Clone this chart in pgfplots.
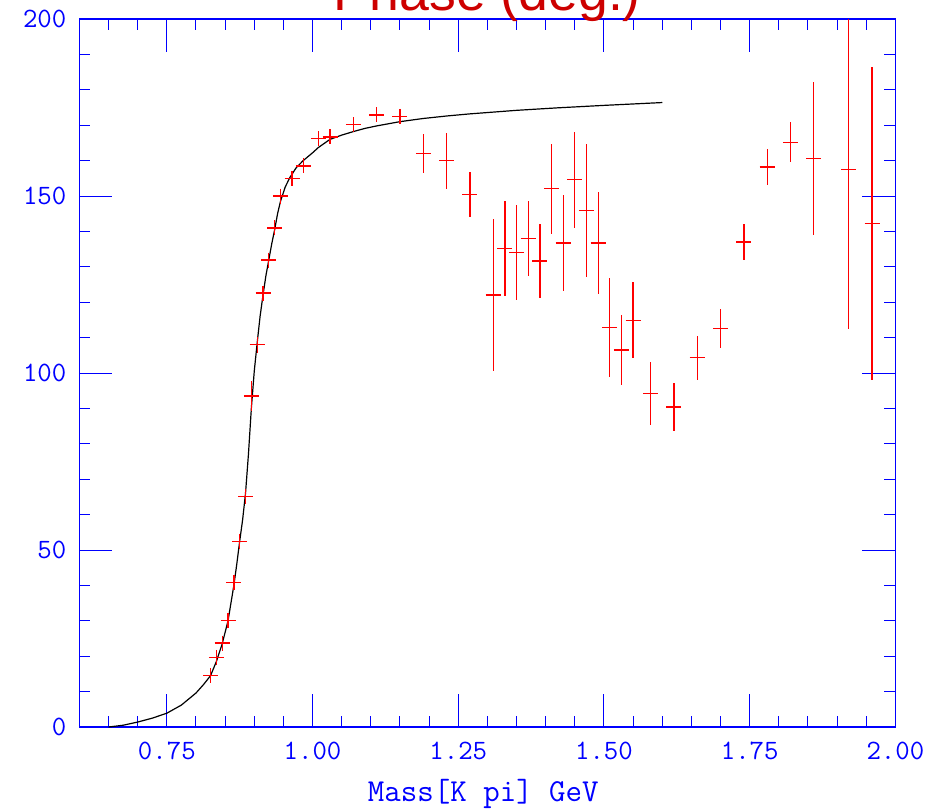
\documentclass[border=0pt]{standalone}
\usepackage{fontspec}
\usepackage{pgfplots}
\usepackage{pgfplotstable}
\pgfplotsset{compat=1.18}
\newfontfamily\titlefont{Liberation Sans}
\definecolor{axblue}{RGB}{0,0,255}
\definecolor{titlered}{RGB}{205,0,0}

\pgfplotstableread{
m v e
0.825 14.5 1.5
0.835 19.7 1.5
0.845 23.7 1.5
0.855 30.0 1.5
0.865 40.8 1.5
0.875 52.5 1.5
0.885 65.1 1.5
0.895 93.5 4.3
0.905 108.0 2.3
0.915 122.6 1.5
0.925 131.9 1.5
0.935 141.0 1.5
0.945 150.0 1.5
0.965 154.9 1.5
0.985 158.5 1.5
1.010 166.2 1.5
1.030 166.7 1.5
1.070 170.1 1.5
1.110 172.9 1.5
1.150 172.5 1.5
1.190 162.0 5.4
1.230 160.0 7.9
1.270 150.5 6.4
1.310 122.0 21.5
1.330 135.2 13.4
1.350 134.0 13.4
1.370 138.0 10.6
1.390 131.6 10.4
1.410 152.1 12.7
1.430 136.7 13.5
1.450 154.6 13.5
1.470 146.0 18.8
1.490 136.7 14.4
1.510 112.9 14.0
1.530 106.5 9.8
1.550 114.9 10.7
1.580 94.2 9.0
1.620 90.4 6.8
1.660 104.3 6.2
1.700 112.6 5.6
1.740 137.0 5.2
1.780 158.2 5.1
1.820 165.2 5.6
1.860 160.6 21.6
1.920 157.4 45.1
1.960 142.2 44.2
}\phasedata

\pgfplotstableread{
m v
0.650 0.0
0.675 0.5
0.700 1.4
0.725 2.5
0.750 3.9
0.775 6.2
0.800 9.6
0.813 12.0
0.825 14.5
0.835 18.5
0.845 23.5
0.855 30.0
0.865 40.0
0.870 46.0
0.875 52.5
0.880 58.5
0.885 66.0
0.890 77.0
0.895 90.0
0.900 100.5
0.905 108.5
0.910 116.0
0.915 122.0
0.920 127.5
0.925 132.0
0.930 136.5
0.935 140.5
0.940 145.0
0.945 148.5
0.953 152.5
0.961 155.2
0.972 158.0
0.984 160.0
1.000 162.2
1.010 163.7
1.030 166.0
1.050 167.2
1.070 168.2
1.090 169.1
1.110 169.8
1.150 171.0
1.190 171.9
1.230 172.6
1.270 173.2
1.310 173.7
1.350 174.2
1.420 174.9
1.500 175.6
1.600 176.4
}\fitcurve

\begin{document}
\begin{tikzpicture}
\useasboundingbox (0,0) rectangle (465pt,405pt);
\begin{axis}[
  at={(39.7pt,41.5pt)}, anchor=south west,
  width=408pt, height=354pt, scale only axis,
  xmin=0.6, xmax=2.0, ymin=0, ymax=200,
  axis line style={axblue, line width=0.75pt},
  xtick={0.75,1.0,1.25,1.5,1.75,2.0},
  xticklabels={0.75,1.00,1.25,1.50,1.75,2.00},
  minor xtick={0.65,0.70,0.80,0.85,0.90,0.95,1.05,1.10,1.15,1.20,1.30,1.35,1.40,1.45,1.55,1.60,1.65,1.70,1.80,1.85,1.90,1.95},
  ytick={0,50,100,150,200},
  yticklabels={0,50,100,150,200},
  minor ytick={10,20,30,40,60,70,80,90,110,120,130,140,160,170,180,190},
  tick align=inside,
  major tick length=16.5pt,
  minor tick length=5.5pt,
  every tick/.style={axblue, line width=0.5pt},
  /pgf/number format/assume math mode=true,
  ticklabel style={font=\ttfamily\fontsize{14}{14}\selectfont, text=axblue},
  xticklabel style={anchor=north, yshift=-4pt},
  yticklabel style={anchor=east, xshift=-3pt},
  xlabel={Mass[K pi] GeV},
  xlabel style={font=\ttfamily\fontsize{16}{16}\selectfont, text=axblue, at={(axis description cs:0.495,0)}, anchor=base, yshift=-37pt},
  title={Phase (deg.)},
  title style={font=\titlefont\fontsize{26.8}{28}\selectfont, text=titlered, at={(axis description cs:0.5,1)}, anchor=base, yshift=-1.5pt},
]
\addplot[black, line width=0.6pt] table[x=m, y=v] {\fitcurve};
\addplot[only marks, mark=+, mark size=3.75pt, red, mark options={red, line width=0.65pt},
  error bars/.cd, y dir=both, y explicit, error mark=none,
  error bar style={red, line width=0.65pt}]
  table[x=m, y=v, y error=e] {\phasedata};
\end{axis}
\end{tikzpicture}
\end{document}
